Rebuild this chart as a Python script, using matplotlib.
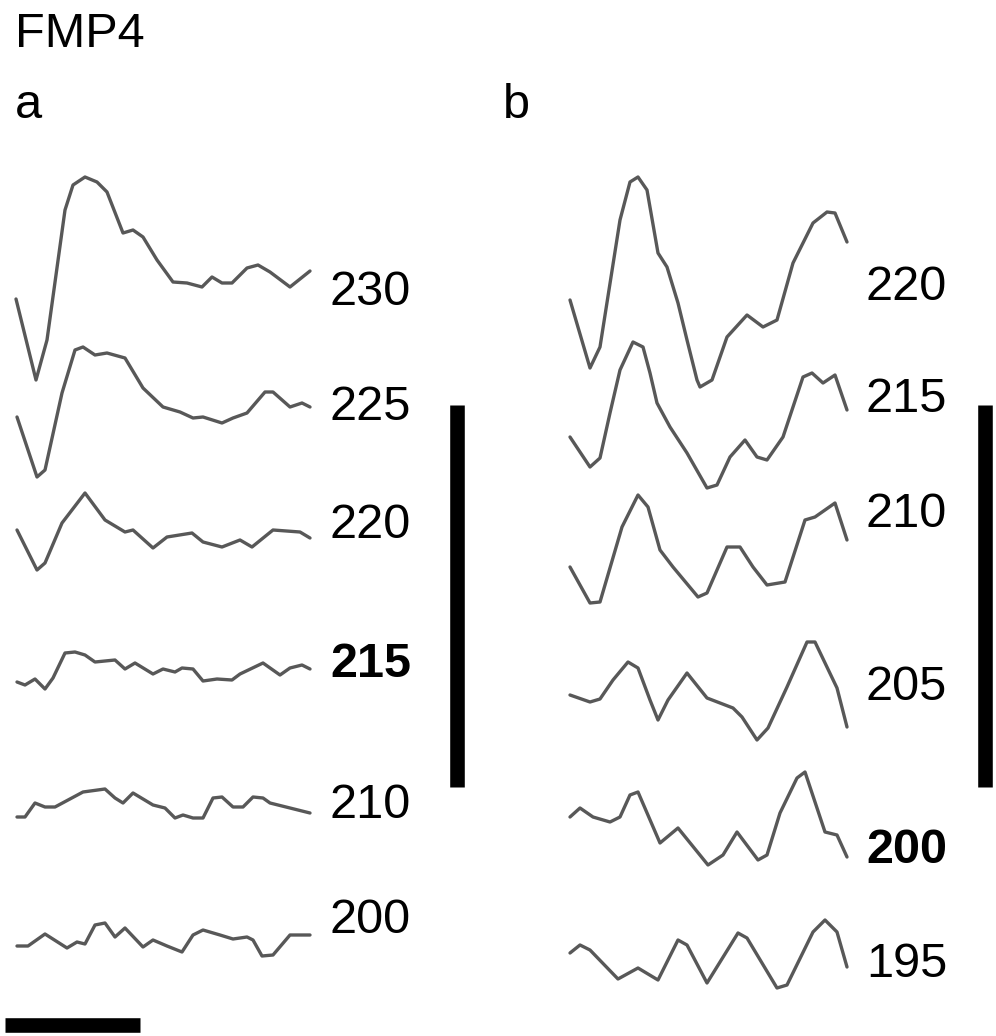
import matplotlib
matplotlib.use("Agg")
import matplotlib.pyplot as plt
import numpy as np

plt.rcParams['font.family'] = ['Liberation Sans', 'DejaVu Sans']

# ---- data (time in px from trace start, amplitude in px, up = +) ----
# panel a
a230_t = [0, 20, 31, 49, 57, 69, 81, 91, 107, 117, 127, 141, 157, 171, 186, 196, 206, 216, 231, 242, 254, 274, 294]
a230_v = [0, -81, -41, 89, 114, 122, 117, 107, 66, 69, 62, 39, 17, 16, 12, 22, 16, 16, 31, 34, 27, 12, 28]
a225_t = [1, 21, 29, 46, 59, 67, 79, 91, 109, 127, 147, 164, 177, 187, 206, 217, 231, 249, 257, 274, 286, 294]
a225_v = [0, -60, -53, 24, 67, 70, 62, 64, 59, 29, 10, 5, -1, 0, -6, -1, 4, 25, 25, 10, 14, 10]
a220_t = [1, 21, 29, 46, 69, 89, 109, 117, 137, 151, 176, 187, 206, 224, 236, 257, 284, 294]
a220_v = [0, -40, -33, 7, 37, 10, -2, 0, -18, -7, -3, -12, -17, -10, -17, 0, -2, -8]
a215_t = [1, 9, 19, 29, 37, 49, 59, 69, 79, 99, 109, 119, 137, 147, 159, 166, 177, 187, 201, 216, 224, 247, 264, 274, 286, 294]
a215_v = [0, -3, 3, -7, 4, 29, 30, 27, 20, 22, 13, 19, 8, 13, 10, 14, 13, 1, 3, 2, 8, 19, 7, 14, 17, 13]
a210_t = [1, 9, 19, 29, 39, 67, 89, 99, 107, 117, 137, 149, 159, 167, 177, 187, 197, 206, 217, 227, 237, 247, 254, 294]
a210_v = [0, 0, 14, 10, 10, 25, 28, 19, 14, 24, 12, 9, -1, 2, -1, -1, 19, 20, 10, 10, 20, 19, 14, 4]
a200_t = [1, 12, 29, 51, 61, 69, 79, 89, 99, 109, 127, 137, 151, 166, 177, 187, 204, 217, 231, 237, 246, 257, 274, 294]
a200_v = [0, 0, 12, -2, 4, 2, 21, 23, 9, 18, -1, 6, 0, -6, 11, 16, 11, 7, 9, 6, -10, -9, 11, 11]

# panel b
b220_t = [0, 20, 30, 50, 60, 68, 77, 88, 97, 108, 117, 127, 130, 142, 157, 177, 193, 207, 223, 243, 257, 265, 277]
b220_v = [0, -68, -47, 80, 118, 123, 110, 47, 33, -3, -40, -80, -87, -80, -37, -15, -27, -20, 37, 77, 88, 87, 58]
b215_t = [0, 20, 30, 40, 50, 63, 73, 80, 87, 100, 117, 137, 147, 160, 175, 187, 197, 213, 223, 233, 242, 253, 265, 277]
b215_v = [0, -30, -21, 24, 67, 95, 90, 64, 34, 10, -16, -51, -48, -20, -3, -20, -23, 0, 30, 60, 64, 54, 62, 27]
b210_t = [0, 20, 30, 52, 68, 78, 90, 103, 128, 137, 157, 170, 183, 197, 215, 235, 245, 265, 277]
b210_v = [0, -36, -35, 40, 72, 60, 17, 0, -30, -26, 20, 20, 0, -18, -15, 47, 50, 64, 27]
b205_t = [0, 20, 30, 43, 58, 68, 80, 88, 98, 117, 137, 163, 172, 187, 198, 217, 237, 245, 267, 277]
b205_v = [0, -7, -4, 15, 33, 27, -5, -25, -5, 22, -3, -13, -22, -45, -33, 8, 53, 53, 7, -32]
b200_t = [0, 10, 23, 40, 50, 60, 68, 90, 108, 138, 153, 167, 188, 197, 210, 227, 235, 255, 267, 277]
b200_v = [0, 9, 0, -5, 0, 22, 25, -26, -11, -48, -38, -15, -43, -38, 4, 39, 45, -15, -18, -40]
b195_t = [0, 10, 20, 48, 68, 88, 108, 117, 137, 168, 177, 207, 217, 243, 255, 267, 277]
b195_v = [0, 8, 3, -26, -15, -27, 13, 8, -30, 20, 15, -35, -32, 21, 33, 21, -14]

labels_a = ['230', '225', '220', '215', '210', '200']
labels_b = ['220', '215', '210', '205', '200', '195']
bold_a = '215'
bold_b = '200'

traces_a = [(a230_t, a230_v), (a225_t, a225_v), (a220_t, a220_v),
            (a215_t, a215_v), (a210_t, a210_v), (a200_t, a200_v)]
traces_b = [(b220_t, b220_v), (b215_t, b215_v), (b210_t, b210_v),
            (b205_t, b205_v), (b200_t, b200_v), (b195_t, b195_v)]

# ---- layout (pixel canvas) ----
W, H = 996, 1036
base_a = [299, 417, 530, 682, 817, 946]
lab_a = [305, 420, 538, 677, 818, 933]
base_b = [300, 437, 567, 695, 817, 953]
lab_b = [300, 412, 527, 700, 863, 977]
x0_a, x0_b = 16, 570
lx_a, lx_b = 330, 866

fig = plt.figure(figsize=(W / 100, H / 100), dpi=100)
ax = fig.add_axes([0, 0, 1, 1])
ax.set_xlim(0, W)
ax.set_ylim(H, 0)
ax.axis('off')

trace_col = '#585858'
fs = 35

for (t, v), b in zip(traces_a, base_a):
    ax.plot(x0_a + np.array(t), b - np.array(v), color=trace_col, lw=2.4,
            solid_joinstyle='round', solid_capstyle='round')
for (t, v), b in zip(traces_b, base_b):
    ax.plot(x0_b + np.array(t), b - np.array(v), color=trace_col, lw=2.4,
            solid_joinstyle='round', solid_capstyle='round')

for lab, y in zip(labels_a, lab_a):
    ax.text(lx_a, y, lab, fontsize=fs, va='baseline', ha='left',
            fontweight='bold' if lab == bold_a else 'normal')
for lab, y in zip(labels_b, lab_b):
    ax.text(lx_b, y, lab, fontsize=fs, va='baseline', ha='left',
            fontweight='bold' if lab == bold_b else 'normal')

ax.text(15, 47, 'FMP4', fontsize=fs, va='baseline', ha='left')
ax.text(15, 118, 'a', fontsize=fs, va='baseline', ha='left')
ax.text(503, 118, 'b', fontsize=fs, va='baseline', ha='left')

# scale bars
ax.plot([457, 457], [405, 787], color='black', lw=10.5, solid_capstyle='butt')
ax.plot([985, 985], [405, 787], color='black', lw=10.5, solid_capstyle='butt')
ax.plot([5, 140], [1025, 1025], color='black', lw=10.5, solid_capstyle='butt')

fig.savefig('out.png', dpi=100)
